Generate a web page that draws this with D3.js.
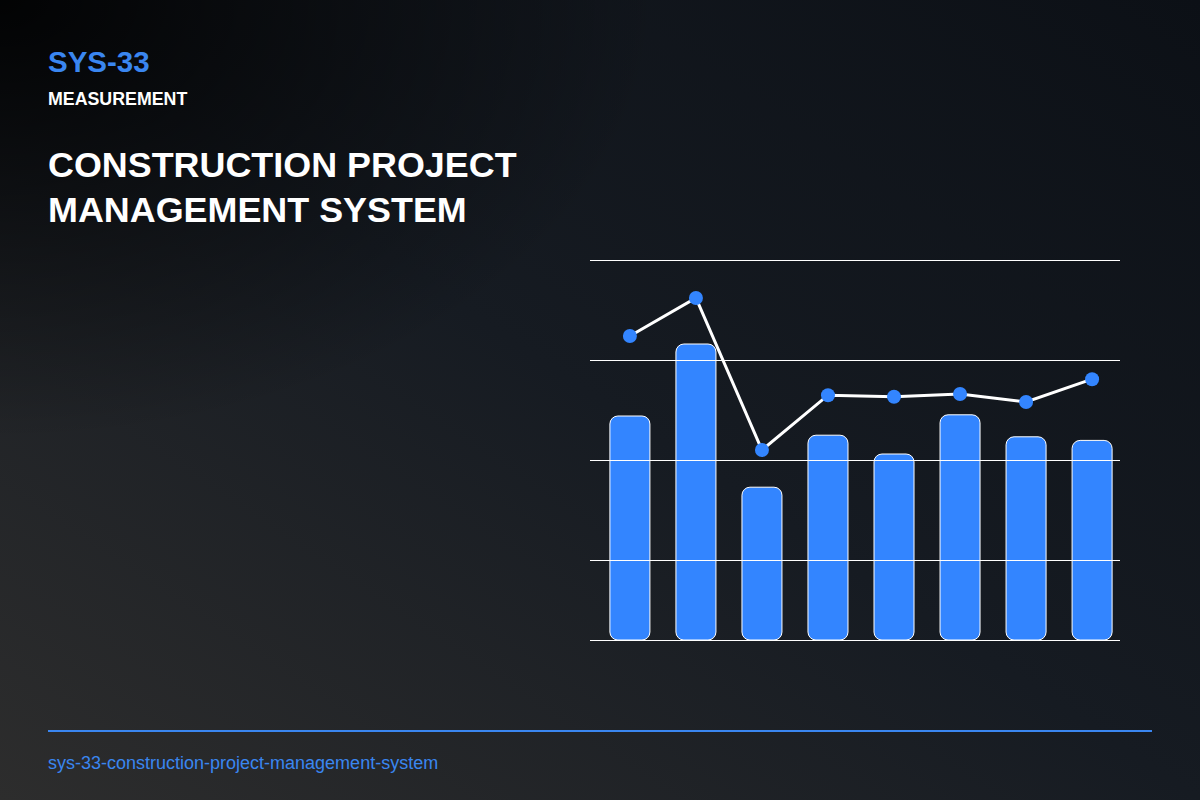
<!DOCTYPE html>
<html><head><meta charset="utf-8">
<script src="https://cdn.jsdelivr.net/npm/d3@7"></script>
<style>
html,body{margin:0;padding:0;background:#111;}
svg{display:block;}
</style></head>
<body>
<script>
const categories = ["C1","C2","C3","C4","C5","C6","C7","C8"];
const barValues = [56, 74, 38.2, 51.2, 46.5, 56.3, 50.8, 49.9];
const lineValues = [76, 85.5, 47.5, 61.2, 60.8, 61.5, 59.5, 65.2];
const gridTicks = [20, 45, 70, 95];

const W = 1200, H = 800;
const svg = d3.select("body").append("svg").attr("width", W).attr("height", H);
const defs = svg.append("defs");

const lg = defs.append("linearGradient").attr("id","bg").attr("x1","1").attr("y1","0").attr("x2","0").attr("y2","1");
lg.append("stop").attr("offset","0").attr("stop-color","#0c1016");
lg.append("stop").attr("offset","0.5").attr("stop-color","#161b22");
lg.append("stop").attr("offset","1").attr("stop-color","#2d2d2d");
const rg = defs.append("radialGradient").attr("id","tl").attr("cx","0").attr("cy","0").attr("r","0.55").attr("gradientUnits","objectBoundingBox");
rg.append("stop").attr("offset","0").attr("stop-color","#000").attr("stop-opacity",0.9);
rg.append("stop").attr("offset","1").attr("stop-color","#000").attr("stop-opacity",0);

svg.append("rect").attr("width",W).attr("height",H).attr("fill","url(#bg)");
svg.append("rect").attr("width",W).attr("height",H).attr("fill","url(#tl)");

const FONT = "Liberation Sans, Arial, Helvetica, sans-serif";
// Header
svg.append("text").attr("x",48).attr("y",72).text("SYS-33")
  .attr("font-family",FONT).attr("font-weight","bold")
  .attr("font-size",29.5).attr("fill","#3a86f0");
svg.append("text").attr("x",48).attr("y",105).text("MEASUREMENT")
  .attr("font-family",FONT).attr("font-weight","bold")
  .attr("font-size",17.8).attr("fill","#ffffff");
const titleLines = ["CONSTRUCTION PROJECT","MANAGEMENT SYSTEM"];
svg.append("g").selectAll("text").data(titleLines).join("text")
  .attr("x",48).attr("y",(d,i)=>177 + i*45).text(d=>d)
  .attr("font-family",FONT).attr("font-weight","bold")
  .attr("font-size",35.9).attr("fill","#ffffff");

// Chart
const x = d3.scaleBand().domain(categories).range([600,1122]).paddingInner(0.394).paddingOuter(0.15);
const y = d3.scaleLinear().domain([0,95]).range([640,260]);

const g = svg.append("g");
g.selectAll("rect.bar").data(barValues).join("rect").attr("class","bar")
  .attr("x",(d,i)=>x(categories[i])).attr("width",x.bandwidth())
  .attr("y",d=>y(d)).attr("height",d=>y(0)-y(d))
  .attr("rx",8).attr("ry",8)
  .attr("fill","#3385ff").attr("stroke","#ffffff").attr("stroke-width",1);

g.selectAll("line.grid").data(gridTicks).join("line").attr("class","grid")
  .attr("x1",590).attr("x2",1120).attr("y1",d=>y(d)+0.5).attr("y2",d=>y(d)+0.5)
  .attr("stroke","#ffffff").attr("stroke-width",1);
g.append("line").attr("x1",590).attr("x2",1120).attr("y1",y(0)+0.5).attr("y2",y(0)+0.5)
  .attr("stroke","#ffffff").attr("stroke-width",1);

const line = d3.line().x((d,i)=>x(categories[i])+x.bandwidth()/2).y(d=>y(d));
g.append("path").datum(lineValues).attr("d",line).attr("fill","none")
  .attr("stroke","#ffffff").attr("stroke-width",3);
g.selectAll("circle").data(lineValues).join("circle")
  .attr("cx",(d,i)=>x(categories[i])+x.bandwidth()/2).attr("cy",d=>y(d)).attr("r",7)
  .attr("fill","#3385ff");

// Footer
svg.append("line").attr("x1",48).attr("x2",1152).attr("y1",731).attr("y2",731)
  .attr("stroke","#3a86f0").attr("stroke-width",2);
svg.append("text").attr("x",48).attr("y",769).text("sys-33-construction-project-management-system")
  .attr("font-family",FONT)
  .attr("font-size",18).attr("fill","#3a86f0");
</script>
</body></html>
